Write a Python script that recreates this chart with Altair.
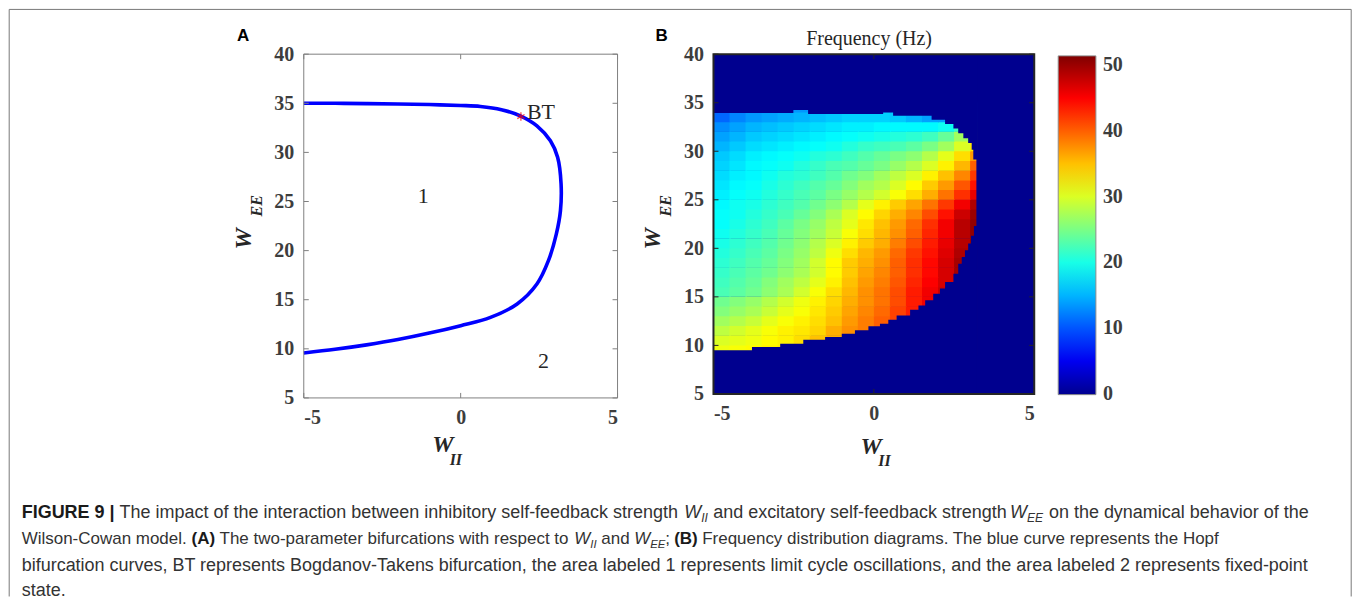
import altair as alt
import pandas as pd

# ---------------- Panel A : Hopf bifurcation curve ----------------
hopf_wii = [-5.0, -4.0, -3.0, -2.0, -1.0, 0.0, 0.63, 1.3, 1.9, 2.43, 2.86, 3.09, 3.20,
            3.18, 3.05, 2.80, 2.43, 1.80, 0.95, 0.0, -1.0, -2.0, -3.0, -4.0, -5.0]
hopf_wee = [35.0, 35.0, 34.97, 34.93, 34.87, 34.78, 34.68, 34.35, 33.72, 32.7, 31.18, 29.5, 26.8,
            24.06, 21.7, 19.0, 16.6, 14.57, 13.2, 12.36, 11.6, 10.94, 10.4, 9.95, 9.58]
bt_wii = [1.92]
bt_wee = [33.65]
bt_label = ["BT"]
region_text = ["1", "2"]
region_wii = [-1.19, 2.64]
region_wee = [25.6, 8.8]

# ---------------- Panel B : frequency map (Hz) ----------------
col_start = [-5.0, -4.5, -4.0, -3.5, -3.0, -2.5, -2.0, -1.5, -1.0, -0.5, 0.0, 0.5, 1.0, 1.5, 2.0, 2.5, 3.0]
row_start = [9, 10, 11, 12, 13, 14, 15, 16, 17, 18, 19, 20, 21, 22, 23, 24, 25, 26, 27, 28, 29, 30, 31, 32, 33, 34]
freq_rows = [
    [31, 31.5, 32, 32.5, 33, 34, 35, 36, 37, 38, 39, 40, 42, 44, 46, 48, 50],
    [30, 30.5, 31, 32, 32.5, 33.5, 35, 36, 37, 38, 39.5, 41, 43, 45, 47, 49, 50],
    [28.5, 29.5, 30.5, 31.5, 32.5, 33, 34, 36, 37.5, 38.5, 40, 41.5, 43, 45, 47, 49, 50],
    [27, 28, 29, 30.5, 31.5, 32.5, 33.5, 35, 37, 38.5, 40, 41.5, 43, 45, 47, 49, 50],
    [25.5, 26.5, 27.5, 29, 30.5, 31.5, 33, 34.5, 36.5, 38, 39.5, 41.5, 43.5, 45.5, 47.5, 49, 50],
    [24.5, 25.5, 26.5, 28, 29.5, 31, 32.5, 34, 36, 37.5, 39, 41, 43.5, 45.5, 47.5, 49, 50],
    [22.5, 23.5, 24.5, 26, 27.5, 29.5, 31.5, 33.5, 35.5, 37.5, 39, 41, 43.5, 45.5, 47.5, 49.5, 50],
    [22, 23, 24, 25.5, 27, 28.5, 30.5, 32.5, 35, 37, 38.5, 40.5, 43, 45, 47, 49.5, 50],
    [21.5, 22.5, 23.5, 24.5, 26, 27.5, 29.5, 32, 34.5, 36.5, 38, 40, 42.5, 44.5, 47, 49.5, 50],
    [21, 22, 23, 24, 25.5, 27, 29.5, 32, 34.5, 36, 37.5, 40, 42.5, 44.5, 47, 49.5, 50],
    [20.5, 21.5, 22.5, 23.5, 25, 26.5, 28.5, 31, 33.5, 35.5, 37, 39.5, 42, 44, 46.5, 49, 50.5],
    [20, 21, 22, 23, 24.5, 26, 28, 30, 32.5, 34.5, 36, 38.5, 41, 43.5, 46, 48.5, 50.5],
    [19.5, 20.5, 21.5, 22.5, 24, 25.5, 27, 29, 31.5, 33.5, 35.5, 37.5, 40, 43, 45.5, 48.5, 50.5],
    [19, 20, 21, 22, 23.5, 25, 26.5, 28.5, 30.5, 33, 35, 37, 39.5, 42.5, 45.5, 48.5, 50.5],
    [19, 19.5, 20.5, 21.5, 22.5, 24, 25.5, 27.5, 30, 32, 34, 36, 38, 41, 44, 47.5, 50],
    [18.5, 19.5, 20, 21, 22, 23, 24.5, 26, 28, 30.5, 32.5, 34.5, 36.5, 39, 42, 45.5, 49],
    [18, 19, 19.5, 20.5, 21.5, 22.5, 23.5, 25, 26.5, 28, 29.5, 31.5, 33.5, 36, 39, 42.5, 46],
    [17.5, 18.5, 19, 20, 21, 22, 23, 24, 25.5, 27, 28, 30, 32, 34.5, 37, 40.5, 44],
    [17, 18, 18.5, 19.5, 20.5, 21, 22, 23, 24.5, 25.5, 27, 28.5, 30, 32.5, 35, 38, 42],
    [16.5, 17.5, 18.5, 19, 19.5, 20.5, 21.5, 22.5, 23, 24, 25, 26.5, 28, 30, 32.5, 35.5, 40],
    [16, 17, 18, 18.5, 19, 19.5, 20.5, 21, 22, 23, 24, 25, 26, 28, 30.5, 33.5, 37],
    [15, 16, 17, 17.5, 18, 18.5, 19, 19.5, 20.5, 21.5, 22, 22.5, 23.5, 25, 27, 30, 33],
    [14, 15, 16, 16.5, 17, 17.5, 18, 18.5, 19, 19.5, 20, 20.5, 21, 22, 24, 27, 30],
    [13, 14, 15, 15.5, 16, 16.5, 17, 17.5, 18, 18, 18.5, 18.5, 18.5, 18.5, 19.5, 22, 25],
    [11, 12.5, 13.5, 14, 14.5, 15, 15.5, 16, 16.5, 16.5, 16.5, 16, 15, 14, 14, 15, 15],
    [10, 11, 12, 12.5, 13, 13.5, 14, 14.5, 15, 15, 15, 14.5, 13.5, 12.5, 12, 12, 12],
]
# edges of the oscillating region (outside it the frequency is 0)
lower_edge_wii = [-5.0, -3.80, -2.92, -2.20, -1.52, -1.00, -0.59, -0.17, 0.19, 0.45, 0.71, 1.13, 1.39,
                  1.60, 1.85, 2.06, 2.22, 2.48, 2.63, 2.74, 2.84, 2.94, 3.03, 3.12, 3.22]
lower_edge_wee = [9.50, 9.83, 10.17, 10.59, 10.86, 11.20, 11.55, 11.96, 12.24, 12.65, 13.09, 13.68, 14.12,
                  14.64, 15.33, 15.85, 16.53, 17.39, 18.42, 19.10, 19.80, 20.50, 21.30, 22.30, 22.30]
upper_edge_wii = [-5.0, -2.51, -2.05, 0.29, 0.60, 1.80, 2.22, 2.48, 2.63, 2.79, 2.94, 3.05, 3.10, 3.22]
upper_edge_wee = [33.95, 34.25, 33.85, 34.0, 33.65, 33.25, 32.8, 32.35, 31.85, 31.35, 30.85, 30.15, 29.15, 29.15]
right_edge_wii = [3.22]

x_ticks = [-5, 0, 5]
y_ticks = [5, 10, 15, 20, 25, 30, 35, 40]
cbar_ticks = [0, 10, 20, 30, 40, 50]
jet_stops = [-0.1, 5.71, 18.77, 31.83, 44.88, 51.4]
jet_colors = ["#00008f", "#0000ff", "#00ffff", "#ffff00", "#ff0000", "#800000"]

# ---------------- caption: (text, style, left x on page, line) ----------------
caption = [
    ("FIGURE 9 |", "b", 21, 0),
    ("The impact of the interaction between inhibitory self-feedback strength", "r", 119, 0),
    ("W", "i", 684, 0), ("II", "s", 701, 0),
    ("and excitatory self-feedback strength", "r", 713, 0),
    ("W", "i", 1010, 0), ("EE", "s", 1027, 0),
    ("on the dynamical behavior of the", "r", 1049, 0),
    ("Wilson-Cowan model.", "r", 21, 1),
    ("(A)", "b", 191, 1),
    ("The two-parameter bifurcations with respect to", "r", 219, 1),
    ("W", "i", 574, 1), ("II", "s", 590, 1),
    ("and", "r", 601, 1),
    ("W", "i", 634, 1), ("EE", "s", 650, 1),
    (";", "r", 665, 1),
    ("(B)", "b", 674, 1),
    ("Frequency distribution diagrams. The blue curve represents the Hopf", "r", 702, 1),
    ("bifurcation curves, BT represents Bogdanov-Takens bifurcation, the area labeled 1 represents "
     "limit cycle oscillations, and the area labeled 2 represents fixed-point", "r", 21, 2),
    ("state.", "r", 21, 3),
]
cap_baselines = [517, 543.5, 570, 596]
cap_sizes = [18, 17, 18, 18]

# ---------------- layout / style ----------------
SERIF = "Liberation Serif"
SANS = "Liberation Sans"
LABEL_COLOR = "#3d3d3d"
TEXT_COLOR = "#262626"
OX_A, OY_A = 303.3, 53.3
W_A, H_A = 314, 344
GAP = 96
OX_B, OY_B = OX_A + W_A + GAP, OY_A
W_B, H_B = 321, 340

AX = dict(labelFont=SERIF, labelFontWeight="bold", labelFontSize=20, labelColor=LABEL_COLOR,
          ticks=False, tickSize=0, domain=False, grid=False, title=None, labelPadding=10,
          labelExpr="'' + datum.value")
AXIS_X = alt.Axis(values=x_ticks, **AX)
AXIS_Y = alt.Axis(values=y_ticks, **AX)

one = pd.DataFrame({"k": [0]})


def xs(field):
    return alt.X(field, scale=alt.Scale(domain=[-5, 5], nice=False, zero=False), axis=AXIS_X)


def ys(field):
    return alt.Y(field, scale=alt.Scale(domain=[5, 40], nice=False, zero=False), axis=AXIS_Y,
                 stack=None)


def label(text, px, py, ox, oy, **kw):
    d = dict(font=SERIF, color=TEXT_COLOR, align="center", baseline="alphabetic")
    d.update(kw)
    return alt.Chart(pd.DataFrame({"t": [text]})).mark_text(**d).encode(
        x=alt.value(px - ox), y=alt.value(py - oy), text="t:N")


def frame_and_ticks(w, h, color, sw):
    fr = alt.Chart(one).mark_rect(fillOpacity=0, stroke=color, strokeWidth=sw).encode(
        x=alt.value(0), x2=alt.value(w), y=alt.value(0), y2=alt.value(h))
    xt = pd.DataFrame({"v": x_ticks})
    yt = pd.DataFrame({"v": y_ticks})
    r = dict(color=color, strokeWidth=1)
    tb = alt.Chart(xt).mark_rule(**r).encode(x=xs("v:Q"), y=alt.value(h), y2=alt.value(h - 5))
    tt = alt.Chart(xt).mark_rule(**r).encode(x=xs("v:Q"), y=alt.value(0), y2=alt.value(5))
    tl = alt.Chart(yt).mark_rule(**r).encode(y=ys("v:Q"), x=alt.value(0), x2=alt.value(5))
    tr = alt.Chart(yt).mark_rule(**r).encode(y=ys("v:Q"), x=alt.value(w), x2=alt.value(w - 5))
    return [fr, tb, tt, tl, tr]


def axis_titles(ox, oy, xw, xwb, xsub, xsubb, yw, ywc, ysub, ysubc):
    it = dict(fontWeight="bold", fontStyle="italic")
    return [
        label("W", xw, xwb, ox, oy, fontSize=24, **it),
        label("II", xsub, xsubb, ox, oy, fontSize=16, **it),
        label("W", yw, ywc, ox, oy, fontSize=24, angle=270, **it),
        label("EE", ysub, ysubc, ox, oy, fontSize=16, angle=270, **it),
    ]


# ---------------- Panel A ----------------
curve = pd.DataFrame({"wii": hopf_wii, "wee": hopf_wee, "i": list(range(len(hopf_wii)))})
line = alt.Chart(curve).mark_line(color="#0000ff", strokeWidth=3.6, interpolate="catmull-rom").encode(
    x=xs("wii:Q"), y=ys("wee:Q"), order="i:Q")
bt = pd.DataFrame({"wii": bt_wii, "wee": bt_wee, "t": bt_label})
ASTER = "M0,-1L0,1M-0.87,-0.5L0.87,0.5M-0.87,0.5L0.87,-0.5"
bt_pt = alt.Chart(bt).mark_point(shape=ASTER, size=70, color="#ff0000", strokeWidth=1.3,
                                 filled=False).encode(x=xs("wii:Q"), y=ys("wee:Q"))
bt_tx = alt.Chart(bt).mark_text(font=SERIF, fontSize=22, color=TEXT_COLOR, align="left",
                                baseline="middle", dx=6, dy=-5).encode(
    x=xs("wii:Q"), y=ys("wee:Q"), text="t:N")
reg = pd.DataFrame({"wii": region_wii, "wee": region_wee, "t": region_text})
reg_tx = alt.Chart(reg).mark_text(font=SERIF, fontSize=22, color=TEXT_COLOR,
                                  baseline="middle").encode(x=xs("wii:Q"), y=ys("wee:Q"), text="t:N")

STYLE = {
    "r": dict(color="#333333"),
    "b": dict(color="#1a1a1a", fontWeight="bold"),
    "i": dict(color="#333333", fontStyle="italic"),
    "s": dict(color="#333333", fontStyle="italic"),
}
caption_layers = []
for t, st, px, ln in caption:
    size = cap_sizes[ln] * (0.67 if st == "s" else 1.0)
    py = cap_baselines[ln] + (4 if st == "s" else 0)
    caption_layers.append(label(t, px, py, OX_A, OY_A, font=SANS, fontSize=size, align="left",
                                **STYLE[st]))

bc = "#777777"
border = [
    alt.Chart(one).mark_rule(color=bc, strokeWidth=1).encode(
        x=alt.value(8.5 - OX_A), y=alt.value(8.5 - OY_A), y2=alt.value(596 - OY_A)),
    alt.Chart(one).mark_rule(color=bc, strokeWidth=1).encode(
        x=alt.value(1351.5 - OX_A), y=alt.value(8.5 - OY_A), y2=alt.value(596 - OY_A)),
    alt.Chart(one).mark_rule(color=bc, strokeWidth=1).encode(
        x=alt.value(8.5 - OX_A), x2=alt.value(1351.5 - OX_A), y=alt.value(8.5 - OY_A)),
]

panel_a = alt.layer(
    line,
    *frame_and_ticks(W_A, H_A, "#808080", 1),
    bt_pt, bt_tx, reg_tx,
    *axis_titles(OX_A, OY_A, 442.5, 451.5, 455.5, 464, 250, 238, 261, 205),
    label("A", 242.5, 40, OX_A, OY_A, font=SANS, fontSize=17, fontWeight="bold", color="#000000"),
    *caption_layers,
    *border,
).properties(width=W_A, height=H_A)

# ---------------- Panel B ----------------
cells = []
for r, y0 in enumerate(row_start):
    for c, x0 in enumerate(col_start):
        cells.append({"x0": x0, "x1": x0 + 0.53, "y0": y0, "y1": y0 + 1.05, "f": freq_rows[r][c]})
cells = pd.DataFrame(cells)

DARK = "#00008f"
bg = alt.Chart(one).mark_rect(color=DARK).encode(
    x=alt.value(0), x2=alt.value(W_B), y=alt.value(0), y2=alt.value(H_B))
heat = alt.Chart(cells).mark_rect(clip=True, strokeWidth=0).encode(
    x=xs("x0:Q"), x2="x1:Q", y=ys("y0:Q"), y2="y1:Q",
    color=alt.Color("f:Q", scale=alt.Scale(domain=jet_stops, range=jet_colors, interpolate="rgb"),
                    legend=alt.Legend(orient="none", legendX=345, legendY=1.7, direction="vertical",
                                      gradientLength=339, gradientThickness=37.7, title=None,
                                      values=cbar_ticks, labelFont=SERIF, labelFontWeight="bold",
                                      labelFontSize=20, labelColor=LABEL_COLOR, labelOffset=7,
                                      gradientStrokeColor="#8c8c8c", gradientStrokeWidth=1,
                                      padding=0)))
low = pd.DataFrame({"wii": lower_edge_wii, "wee": lower_edge_wee, "lim": [5.0] * len(lower_edge_wii)})
up = pd.DataFrame({"wii": upper_edge_wii, "wee": upper_edge_wee, "lim": [40.0] * len(upper_edge_wii)})
low_mask = alt.Chart(low).mark_area(interpolate="step-after", color=DARK, clip=True,
                                    orient="vertical").encode(
    x=xs("wii:Q"), y=ys("wee:Q"), y2="lim:Q")
up_mask = alt.Chart(up).mark_area(interpolate="step-after", color=DARK, clip=True,
                                  orient="vertical").encode(
    x=xs("wii:Q"), y=ys("wee:Q"), y2="lim:Q")
rm = pd.DataFrame({"a": right_edge_wii, "b": [5.0]})
right_mask = alt.Chart(rm).mark_rect(color=DARK, stroke=DARK, strokeWidth=1.5, clip=True).encode(
    x=xs("a:Q"), x2="b:Q", y=alt.value(0), y2=alt.value(H_B))

panel_b = alt.layer(
    bg, heat, low_mask, up_mask, right_mask,
    *frame_and_ticks(W_B, H_B, "#262626", 2),
    *axis_titles(OX_B, OY_B, 871, 453, 884.5, 465, OX_B - 53.3, 238, OX_B - 42.3, 205),
    label("B", 661.5, 40, OX_B, OY_B, font=SANS, fontSize=17, fontWeight="bold", color="#000000"),
    label("Frequency (Hz)", 869, 44, OX_B, OY_B, fontSize=20),
).properties(width=W_B, height=H_B)

chart = alt.hconcat(panel_a, panel_b, spacing=GAP, bounds="flush").resolve_scale(
    color="independent").properties(padding=0).configure_view(stroke=None)

chart.save("out.html", embed_options={"renderer": "svg", "actions": False})
